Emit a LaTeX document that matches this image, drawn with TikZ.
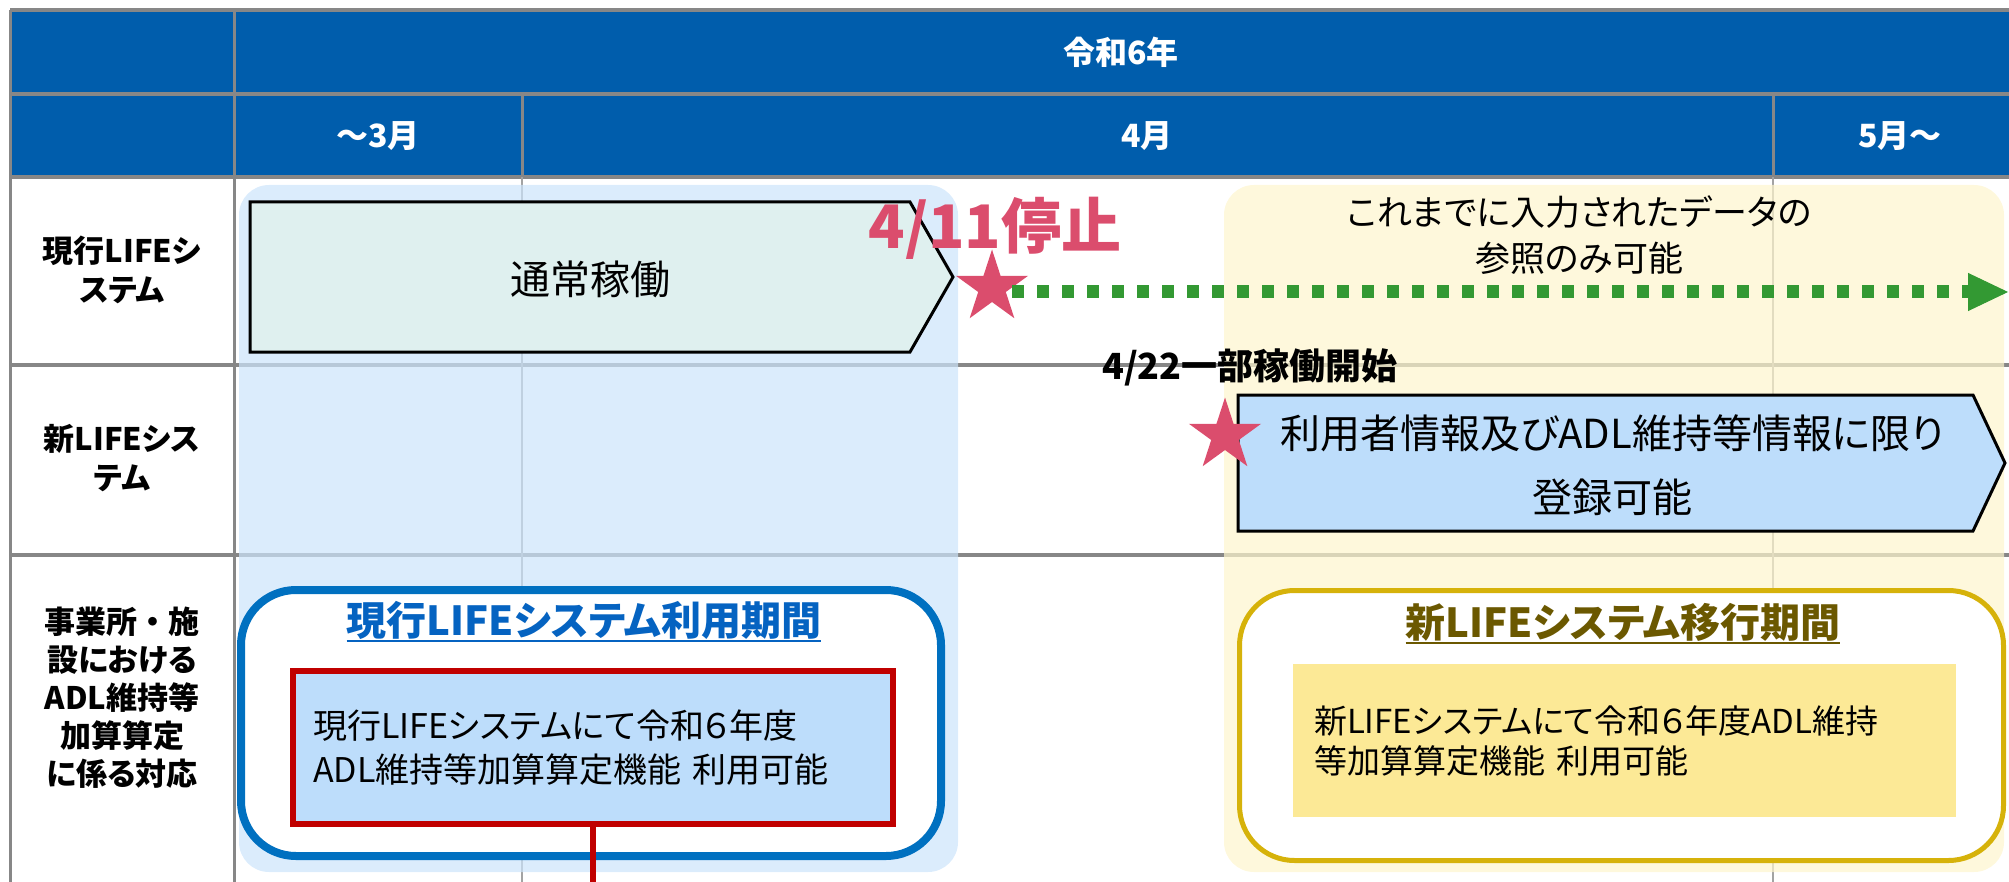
\documentclass[tikz,border=0pt]{standalone}
\usepackage{fontspec}
\setmainfont{Noto Sans CJK JP}[RawFeature=+palt]
\newfontfamily\jpfull{Noto Sans CJK JP}
\usetikzlibrary{shapes.geometric,arrows.meta}
\newcommand\myfs[2]{\fontsize{#1}{#2}\selectfont}
\definecolor{hdrblue}{HTML}{005DAC}
\definecolor{gridc}{HTML}{878787}
\definecolor{gridl}{HTML}{A3A3A3}
\definecolor{panelblue}{HTML}{CCE4FB}
\definecolor{panelyel}{HTML}{FDF5CD}
\definecolor{arrowteal}{HTML}{DFF0EF}
\definecolor{lightblue}{HTML}{BDDDFB}
\definecolor{starred}{HTML}{DB4D6D}
\definecolor{dotgreen}{HTML}{339933}
\definecolor{boxblue}{HTML}{0070C0}
\definecolor{titleblue}{HTML}{0563C1}
\definecolor{redline}{HTML}{C00000}
\definecolor{gold}{HTML}{D6B20A}
\definecolor{olive}{HTML}{6B5800}
\definecolor{yelfill}{HTML}{FCE996}
\begin{document}
\begin{tikzpicture}[x=1pt,y=-1pt,
  hdrtext/.style={text=white,font=\bfseries\myfs{32}{38},inner sep=0pt},
  rowlbl/.style={font=\bfseries\myfs{31}{39},align=center,inner sep=0pt},
  gridh/.style={draw=gridc,line width=3.5pt},
  gridv/.style={draw=gridl,line width=2.5pt},
  gridk/.style={draw=gridc,line width=3pt},
  panel/.style={rounded corners=30pt,fill opacity=0.7},
  arrowshape/.style={draw=black,line width=3pt,line join=miter},
  starnode/.style={star,star points=5,star point ratio=2.618,fill=starred,minimum size=76pt,inner sep=0pt},
  plain/.style={inner sep=0pt,align=center},
  greenarrow/.style={draw=dotgreen,line width=13pt,dash pattern=on 12pt off 13pt,-{Triangle[length=40pt,width=38pt,line width=1pt]}},
  roundbox/.style={rounded corners=55pt,fill=white},
  ]
\useasboundingbox (0,0) rectangle (2009,882);
% header
\fill[hdrblue] (10,10) rectangle (2009,177);
% grid
\draw[gridh] (10,10) -- (2009,10);
\draw[gridh] (10,94) -- (2009,94);
\draw[gridh] (10,177) -- (2009,177);
\draw[gridh] (10,365) -- (2009,365);
\draw[gridh] (10,555) -- (2009,555);
\draw[gridk] (10,10) -- (10,882);
\draw[gridk] (234,10) -- (234,882);
\draw[gridk] (522,94) -- (522,177);
\draw[gridv] (522,177) -- (522,882);
\draw[gridk] (1773,94) -- (1773,177);
\draw[gridv] (1773,177) -- (1773,882);
% panels
\fill[panelblue,panel] (239,185) rectangle (958,872);
\fill[panelyel,panel] (1224,185) rectangle (2004,872);
% header texts
\node[hdrtext] (year) at (1121,52) {令和6年};
\node[hdrtext] (m3) at (378,136) {～3月};
\node[hdrtext] (m4) at (1147,136) {4月};
\node[hdrtext] (m5) at (1900,136) {5月～};
% row labels
\node[rowlbl] (r1) at (122,270) {現行LIFEシ\\ステム};
\node[rowlbl] (r2) at (122,458) {新LIFEシス\\テム};
\node[rowlbl,font=\bfseries\myfs{31}{38}] (r3) at (122,698) {{\jpfull 事業所・施}\\設における\\ADL維持等\\加算算定\\に係る対応};
% current system
\draw[arrowshape,fill=arrowteal] (250,202) -- (910,202) -- (953,277) -- (910,352) -- (250,352) -- cycle;
\node[plain,font=\myfs{40}{48}] (cur) at (590,279) {通常稼働};
\node[plain,text=starred,font=\bfseries\myfs{60}{66}] (stop) at (995,228) {4/11停止};
\node[starnode] (s1) at (992,287.5) {};
\coordinate (gend) at (2008,292);
\draw[greenarrow] (s1.east |- gend) -- (gend);
\node[plain,font=\myfs{35}{46}] (ref) at (1579,235) {これまでに入力されたデータの\\参照のみ可能};
% new system
\draw[arrowshape,fill=lightblue] (1238,395) -- (1973,395) -- (2005,463) -- (1973,531) -- (1238,531) -- cycle;
\node[plain,font=\myfs{40}{64}] (newtxt) at (1612,465) {利用者情報及びADL維持等情報に限り\\登録可能};
\node[starnode] (s2) at (1225,435.5) {};
\node[plain,font=\bfseries\myfs{36}{40}] (start) at (1250,367) {4/22一部稼働開始};
% left period box
\draw[draw=boxblue,line width=8pt,roundbox] (241,590) rectangle (941,856);
\node[plain,text=titleblue,font=\bfseries\myfs{40}{48}] (t1) at (584,620) {現行LIFEシステム利用期間};
\draw[titleblue,line width=2.5pt] ([yshift=-6pt]t1.base west) -- ([yshift=-6pt]t1.base east);
\node[draw=redline,line width=6pt,fill=lightblue,text width=560pt,inner xsep=20pt,inner ysep=0pt,minimum height=153pt,align=left,font=\myfs{34}{44}] (rbox) at (593,747.5) {現行LIFEシステムにて令和６年度\\ADL維持等加算算定機能 利用可能};
\coordinate (rbot) at (593,882);
\draw[redline,line width=6pt] (rbox.south) -- (rbot);
% right period box
\draw[draw=gold,line width=5pt,roundbox] (1239.5,590.5) rectangle (2003.5,860.5);
\node[plain,text=olive,font=\bfseries\myfs{40}{48}] (t2) at (1623,622) {新LIFEシステム移行期間};
\draw[olive,line width=2.5pt] ([yshift=-6pt]t2.base west) -- ([yshift=-6pt]t2.base east);
\node[fill=yelfill,text width=621pt,inner xsep=21pt,inner ysep=0pt,minimum height=153pt,align=left,font=\myfs{33}{40}] (ybox) at (1624.5,740.5) {新LIFEシステムにて令和６年度ADL維持\\等加算算定機能 利用可能};
\end{tikzpicture}
\end{document}
